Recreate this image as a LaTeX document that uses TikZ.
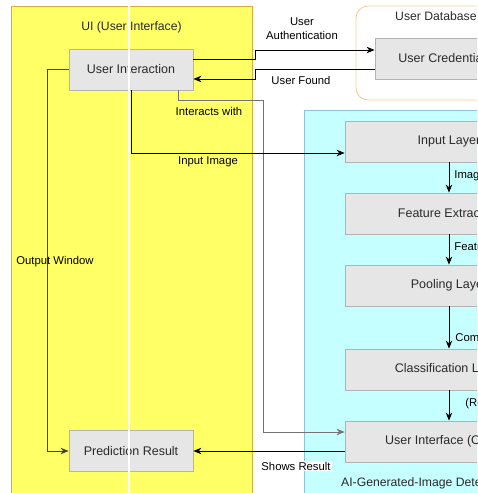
\documentclass[tikz,border=0pt]{standalone}
\usepackage{fontspec}
\setmainfont{Liberation Sans}
\usetikzlibrary{arrows.meta}
\definecolor{uifill}{HTML}{FFFF66}
\definecolor{uiline}{HTML}{E3A93A}
\definecolor{aifill}{HTML}{C6FFFF}
\definecolor{ailine}{HTML}{8CC4E8}
\definecolor{dbline}{HTML}{F8CB94}
\definecolor{boxfill}{HTML}{E6E6E6}
\definecolor{boxline}{HTML}{B3B3B3}
\definecolor{boxtext}{HTML}{2A2A2A}
\tikzset{
  stepbox/.style={draw=boxline, fill=boxfill, line width=0.8pt, inner sep=0pt,
    minimum height=41pt, text=boxtext, font=\fontsize{12.5}{14}\selectfont},
  uibox/.style={stepbox, minimum width=124pt},
  aibox/.style={stepbox, minimum width=208pt},
  grouptitle/.style={text=boxtext, font=\fontsize{12.2}{14}\selectfont, inner sep=0pt},
  elab/.style={text=black, font=\fontsize{11.3}{13.5}\selectfont, inner sep=1pt},
  arr/.style={draw=black, line width=0.8pt, -{Stealth[length=8pt,width=6.5pt,inset=2.5pt]}},
  thinarr/.style={arr, draw=black!55, line width=0.6pt}
}
\begin{document}
\begin{tikzpicture}[x=1pt,y=-1pt]
\useasboundingbox (0,0) rectangle (477,493);
\clip (0,0) rectangle (477,493);

% group panels
\filldraw[fill=uifill, draw=uiline, line width=0.9pt] (11,6) rectangle (252,500);
\filldraw[fill=aifill, draw=ailine, line width=0.8pt] (304,110) rectangle (560,500);
\draw[draw=dbline, line width=0.9pt, rounded corners=12pt] (356,6) rectangle (560,100);

\node[grouptitle] (uititle) at (131.5,27) {UI (User Interface)};
\node[grouptitle, anchor=west] (dbtitle) at (395,16) {User Database};
\node[grouptitle, anchor=west] (aititle) at (341,483) {AI-Generated-Image Detection};

% boxes
\node[uibox] (ui)   at (131,69.5) {User Interaction};
\node[uibox] (pred) at (131,451) {Prediction Result};
\node[stepbox, minimum width=140pt] (cred) at (445,58.5) {User Credentials};

\node[aibox] (inl)  at (449,141.5) {Input Layer};
\node[aibox] (fe)   at (449,213.5) {Feature Extraction};
\node[aibox] (pool) at (449,285.5) {Pooling Layer};
\node[aibox] (cls)  at (449,369.5) {Classification Layer};
\node[aibox] (out)  at (449,441.5) {User Interface (Output)};

% login exchange with the database
\draw[arr] ([yshift=10.5pt]ui.east) -- ++(62,0) |- ([yshift=8.5pt]cred.west);
\node[elab, align=center] (authlab) at (302,28.5) {User\\Authentication};
\draw[arr] ([yshift=-10.5pt]cred.west) -- ++(-119,0) |- ([yshift=-9.5pt]ui.east);
\node[elab] (foundlab) at (301,80) {User Found};

% interaction paths
\draw[thinarr] ([xshift=47pt]ui.south) -- ++(0,9.5) -- ++(85,0) |- ([yshift=9.5pt]out.west);
\node[elab] (interlab) at (209,111) {Interacts with};
\draw[arr, line width=0.7pt] ([xshift=0.5pt]ui.south) |- ([yshift=-11.5pt]inl.west);
\node[elab] (imglab) at (208,162) {Input Image};

% model pipeline
\draw[arr] (inl.south) -- node[elab, anchor=west, pos=0.45, xshift=4pt] {Image Data} (fe.north);
\draw[arr] (fe.south) -- node[elab, anchor=west, pos=0.42, xshift=4pt] {Features} (pool.north);
\draw[arr] (pool.south) -- node[elab, anchor=west, pos=0.77, xshift=5pt] {Compressed Features} (cls.north);
\draw[arr] (cls.south) -- node[elab, anchor=west, pos=0.45, xshift=15pt] {(Real / AI-Generated)} (out.north);

% result back to the user
\draw[arr] ([yshift=-9.5pt]out.west) -- (pred.east);
\node[elab, fill=white, inner sep=1pt] (showlab) at (296,466) {Shows Result};
\draw[arr, draw=black!75] (ui.west) -- ++(-21,0) |- (pred.west);
\node[elab] (winlab) at (55,262) {Output Window};

% light seam across the UI panel
\draw[white, line width=2.3pt] (128.8,6) -- (128.8,493);
\end{tikzpicture}
\end{document}
